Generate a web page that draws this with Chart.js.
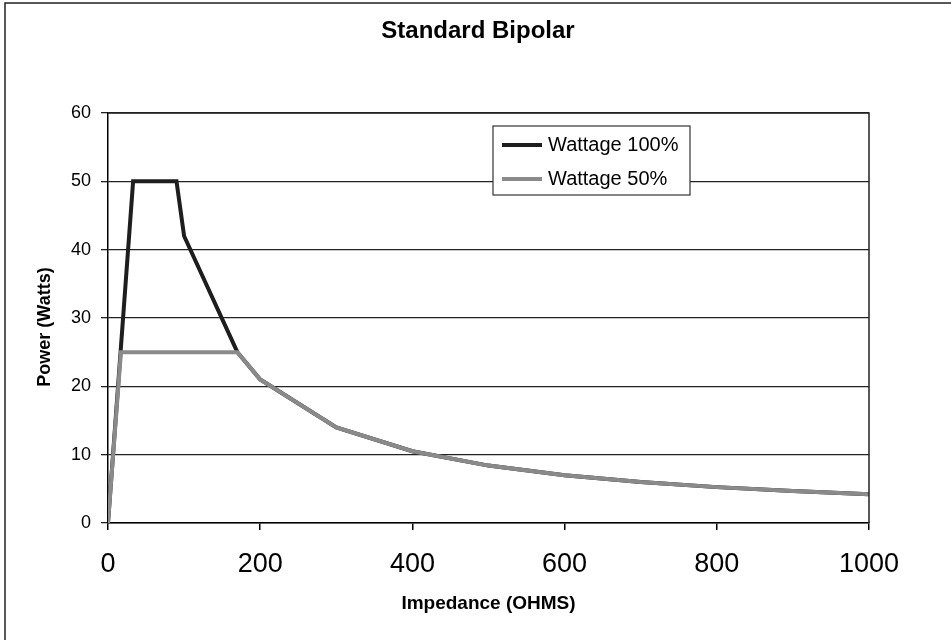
<!DOCTYPE html>
<html>
<head>
<meta charset="utf-8">
<title>Standard Bipolar</title>
<script src="https://cdn.jsdelivr.net/npm/chart.js@4"></script>
<style>
  html, body { margin: 0; padding: 0; background: #fff; }
  #wrap { width: 951px; height: 640px; }
</style>
</head>
<body>
<div id="wrap"><canvas id="powerChart" width="951" height="640"></canvas></div>
<script>
// values
const impedanceFull = [0, 33, 90, 100, 170, 200, 300, 400, 500, 600, 700, 800, 900, 1000];
const powerFull = [0, 50, 50, 42, 25, 21, 14, 10.5, 8.4, 7, 6, 5.25, 4.7, 4.2];
const impedanceHalf = [0, 17, 170, 200, 300, 400, 500, 600, 700, 800, 900, 1000];
const powerHalf = [0, 25, 25, 21, 14, 10.5, 8.4, 7, 6, 5.25, 4.7, 4.2];
const seriesNames = ['Wattage 100%', 'Wattage 50%'];
const seriesColors = ['#1e1e1e', '#8a8a8a'];

const toPoints = (xs, ys) => xs.map((x, i) => ({ x: x, y: ys[i] }));
const FONT = 'Liberation Sans, Arial, sans-serif';

// frame, titles and the boxed legend are drawn by hand
const decorations = {
    id: 'decorations',
    beforeDraw(chart) {
        const ctx = chart.ctx;
        ctx.save();
        ctx.fillStyle = '#fff';
        ctx.fillRect(0, 0, chart.width, chart.height);
        ctx.strokeStyle = '#222';
        ctx.lineWidth = 1.5;
        ctx.strokeRect(5, 3, 1200, 1000);
        ctx.fillStyle = '#000';
        ctx.font = 'bold 24px ' + FONT;
        ctx.textAlign = 'center';
        ctx.textBaseline = 'middle';
        ctx.fillText('Standard Bipolar', 478, 31);
        // y axis title, sits a little below the plot centre in the original
        ctx.translate(45, 327);
        ctx.rotate(-Math.PI / 2);
        ctx.font = 'bold 18px ' + FONT;
        ctx.fillText('Power (Watts)', 0, 0);
        ctx.restore();
    },
    afterDatasetsDraw(chart) {
        const ctx = chart.ctx;
        const area = chart.chartArea;
        ctx.save();
        // plot frame (top and right)
        ctx.strokeStyle = '#222';
        ctx.lineWidth = 1.5;
        ctx.beginPath();
        ctx.moveTo(area.left, area.top);
        ctx.lineTo(area.right, area.top);
        ctx.lineTo(area.right, area.bottom);
        ctx.stroke();

        // legend box
        const bx = 493, by = 126, bw = 197, bh = 69;
        ctx.fillStyle = '#fff';
        ctx.fillRect(bx, by, bw, bh);
        ctx.strokeStyle = '#333';
        ctx.lineWidth = 1.2;
        ctx.strokeRect(bx, by, bw, bh);
        ctx.font = '20px ' + FONT;
        ctx.textAlign = 'left';
        ctx.textBaseline = 'middle';
        chart.data.datasets.forEach((ds, i) => {
            const y = 145 + i * 34;
            ctx.strokeStyle = ds.borderColor;
            ctx.lineWidth = 4;
            ctx.beginPath();
            ctx.moveTo(502, y);
            ctx.lineTo(542, y);
            ctx.stroke();
            ctx.fillStyle = '#000';
            ctx.fillText(ds.label, 548, y);
        });
        ctx.restore();
    }
};

const ctx = document.getElementById('powerChart').getContext('2d');
new Chart(ctx, {
    type: 'scatter',
    data: {
        datasets: [
            {
                label: seriesNames[0],
                data: toPoints(impedanceFull, powerFull),
                borderColor: seriesColors[0],
                borderWidth: 4,
                showLine: true,
                pointRadius: 0,
                order: 2
            },
            {
                label: seriesNames[1],
                data: toPoints(impedanceHalf, powerHalf),
                borderColor: seriesColors[1],
                borderWidth: 4,
                showLine: true,
                pointRadius: 0,
                order: 1
            }
        ]
    },
    options: {
        responsive: false,
        animation: false,
        layout: { padding: { top: 113, right: 82, bottom: 18, left: 0 } },
        plugins: {
            legend: { display: false },
            tooltip: { enabled: false }
        },
        scales: {
            x: {
                type: 'linear',
                min: 0,
                max: 1000,
                afterFit: (scale) => { scale.height = 99; },
                ticks: {
                    stepSize: 200,
                    color: '#000',
                    padding: 18,
                    font: { family: FONT, size: 27 },
                    callback: (value) => String(value)
                },
                grid: {
                    drawOnChartArea: false,
                    color: '#000',
                    lineWidth: 1.5,
                    tickLength: 7
                },
                border: { color: '#000', width: 1.5 },
                title: {
                    display: true,
                    text: 'Impedance (OHMS)',
                    color: '#000',
                    padding: { top: 0, bottom: 7 },
                    font: { family: FONT, size: 19, weight: 'bold' }
                }
            },
            y: {
                min: 0,
                max: 60,
                afterFit: (scale) => { scale.width = 108; },
                ticks: {
                    stepSize: 10,
                    color: '#000',
                    padding: 10,
                    font: { family: FONT, size: 18 }
                },
                grid: {
                    color: '#222',
                    lineWidth: 1.3,
                    tickLength: 7
                },
                border: { color: '#000', width: 1.5 }
            }
        }
    },
    plugins: [decorations]
});
</script>
</body>
</html>
